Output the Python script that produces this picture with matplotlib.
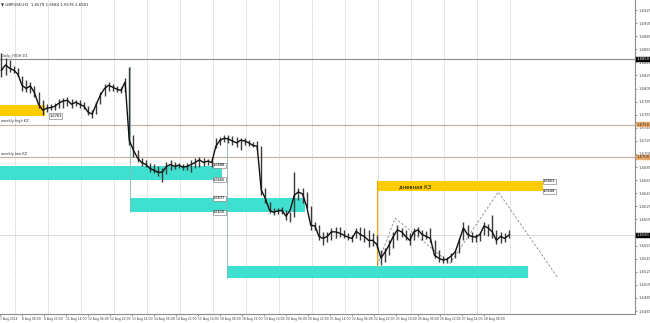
import numpy as np
import matplotlib
matplotlib.use("Agg")
import matplotlib.pyplot as plt
import matplotlib.transforms as mtransforms

high = [1.6859, 1.6851, 1.6848, 1.6839, 1.6836, 1.6824, 1.6818, 1.6815, 1.6809, 1.6799,
        1.6787, 1.6781, 1.6781, 1.6783, 1.6789, 1.6790, 1.6792, 1.6789, 1.6787, 1.6787,
        1.6784, 1.6778, 1.6772, 1.6784, 1.6799, 1.6812, 1.6815, 1.6812, 1.6809, 1.6807,
        1.6821, 1.6838, 1.6734, 1.6711, 1.6699, 1.6696, 1.6691, 1.6689, 1.6686, 1.6683,
        1.6692, 1.6696, 1.6692, 1.6691, 1.6689, 1.6691, 1.6696, 1.6699, 1.6700, 1.6699,
        1.6697, 1.6699, 1.6729, 1.6731, 1.6734, 1.6734, 1.6732, 1.6731, 1.6729, 1.6729,
        1.6726, 1.6723, 1.6725, 1.6717, 1.6653, 1.6631, 1.6622, 1.6622, 1.6624, 1.6619,
        1.6616, 1.6677, 1.6653, 1.6653, 1.6647, 1.6625, 1.6601, 1.6596, 1.6586, 1.6586,
        1.6592, 1.6593, 1.6593, 1.6589, 1.6584, 1.6581, 1.6592, 1.6593, 1.6592, 1.6589,
        1.6584, 1.6581, 1.6558, 1.6561, 1.6573, 1.6586, 1.6596, 1.6592, 1.6589, 1.6584,
        1.6592, 1.6593, 1.6589, 1.6587, 1.6592, 1.6573, 1.6558, 1.6549, 1.6547, 1.6553,
        1.6558, 1.6576, 1.6601, 1.6596, 1.6586, 1.6582, 1.6586, 1.6601, 1.6598, 1.6612,
        1.6589, 1.6586, 1.6584, 1.6589]
low = [1.6822, 1.6825, 1.6830, 1.6828, 1.6824, 1.6802, 1.6799, 1.6798, 1.6792, 1.6775,
       1.6764, 1.6769, 1.6772, 1.6772, 1.6775, 1.6776, 1.6778, 1.6776, 1.6778, 1.6776,
       1.6773, 1.6764, 1.6760, 1.6766, 1.6781, 1.6793, 1.6802, 1.6802, 1.6799, 1.6798,
       1.6799, 1.6718, 1.6700, 1.6692, 1.6686, 1.6685, 1.6677, 1.6676, 1.6671, 1.6662,
       1.6674, 1.6680, 1.6682, 1.6683, 1.6680, 1.6680, 1.6677, 1.6683, 1.6685, 1.6686,
       1.6688, 1.6685, 1.6714, 1.6718, 1.6723, 1.6722, 1.6718, 1.6715, 1.6711, 1.6718,
       1.6717, 1.6715, 1.6711, 1.6642, 1.6630, 1.6615, 1.6612, 1.6613, 1.6613, 1.6604,
       1.6601, 1.6608, 1.6634, 1.6630, 1.6622, 1.6589, 1.6589, 1.6573, 1.6566, 1.6570,
       1.6573, 1.6576, 1.6578, 1.6576, 1.6573, 1.6570, 1.6576, 1.6573, 1.6570, 1.6563,
       1.6564, 1.6561, 1.6535, 1.6540, 1.6550, 1.6561, 1.6573, 1.6578, 1.6573, 1.6566,
       1.6573, 1.6579, 1.6573, 1.6575, 1.6570, 1.6546, 1.6540, 1.6538, 1.6538, 1.6540,
       1.6546, 1.6553, 1.6573, 1.6576, 1.6570, 1.6570, 1.6572, 1.6581, 1.6579, 1.6576,
       1.6567, 1.6569, 1.6570, 1.6576]
close = [1.6833, 1.6841, 1.6836, 1.6833, 1.6827, 1.6810, 1.6805, 1.6809, 1.6799, 1.6781,
         1.6772, 1.6775, 1.6776, 1.6778, 1.6783, 1.6786, 1.6787, 1.6781, 1.6784, 1.6781,
         1.6778, 1.6769, 1.6766, 1.6781, 1.6795, 1.6805, 1.6810, 1.6807, 1.6804, 1.6802,
         1.6815, 1.6726, 1.6711, 1.6699, 1.6692, 1.6689, 1.6683, 1.6680, 1.6677, 1.6677,
         1.6686, 1.6689, 1.6686, 1.6688, 1.6685, 1.6686, 1.6689, 1.6692, 1.6696, 1.6692,
         1.6694, 1.6692, 1.6717, 1.6726, 1.6729, 1.6728, 1.6725, 1.6722, 1.6726, 1.6725,
         1.6722, 1.6718, 1.6717, 1.6650, 1.6637, 1.6619, 1.6616, 1.6618, 1.6619, 1.6610,
         1.6619, 1.6642, 1.6647, 1.6644, 1.6625, 1.6596, 1.6595, 1.6579, 1.6576, 1.6579,
         1.6586, 1.6586, 1.6584, 1.6581, 1.6578, 1.6576, 1.6587, 1.6582, 1.6579, 1.6573,
         1.6573, 1.6567, 1.6546, 1.6555, 1.6566, 1.6579, 1.6589, 1.6586, 1.6579, 1.6573,
         1.6586, 1.6589, 1.6582, 1.6579, 1.6576, 1.6550, 1.6546, 1.6543, 1.6544, 1.6549,
         1.6555, 1.6573, 1.6592, 1.6582, 1.6579, 1.6578, 1.6582, 1.6595, 1.6592, 1.6586,
         1.6573, 1.6579, 1.6576, 1.6581]

date_labels = ["7 Aug 2014", "8 Aug 06:00", "8 Aug 22:00", "11 Aug 14:00", "12 Aug 06:00",
               "12 Aug 22:00", "13 Aug 14:00", "14 Aug 06:00", "14 Aug 22:00", "15 Aug 14:00",
               "18 Aug 06:00", "18 Aug 22:00", "19 Aug 14:00", "20 Aug 06:00", "20 Aug 22:00",
               "21 Aug 14:00", "22 Aug 06:00", "22 Aug 22:00", "25 Aug 14:00", "26 Aug 06:00",
               "26 Aug 22:00", "27 Aug 14:00", "28 Aug 06:00"]

# horizontal levels
line_prices = [1.6850, 1.6750, 1.6700]
line_names = ["Daily_HIGH D1", "weekly-high KZ", "weekly-low KZ"]
line_colors = ["#8c8c8c", "#c4b09a", "#c4b09a"]
box_colors = ["black", "#e9a96b", "#e9a96b"]
last_price = 1.6581

# zones (bar index from / to, top, bottom)
zone_x0 = [0, 0, 94.5, 165, 274]
zone_x1 = [33, 161.5, 221.8, 384, 395]
zone_top = [1.6780, 1.6687, 1.6637, 1.6534, 1.6663]
zone_bot = [1.6763, 1.6665, 1.6616, 1.6515, 1.6648]
zone_col = ["#ffcc00", "#40e0d0", "#40e0d0", "#40e0d0", "#ffcc00"]

# forecast zigzag (bar index, price)
zz_x = [274.4, 287.3, 327.3, 362.4, 405.3]
zz_y = [1.6535, 1.6607, 1.6538, 1.6647, 1.6517]

small = ["Liberation Sans Narrow", "DejaVu Sans"]

fig = plt.figure(figsize=(6.5, 3.23), dpi=100)
ax = fig.add_axes([0, 9 / 323, 635 / 650, 314 / 323])
ax.set_xlim(0, 635 / 1.375)
ax.set_ylim(1.64605, 1.69403)

# vertical dotted grid, one line a day
for gx in range(11, 380, 24):
    ax.axvline(gx, color="#b4b4b4", lw=0.6, ls=(0, (1, 1.5)), zorder=0)

for p, c in zip(line_prices, line_colors):
    ax.axhline(p, color=c, lw=0.8, zorder=1)
ax.axhline(last_price, color="#dcdcdc", lw=0.7, zorder=1)

for x0, x1, t, b, c in zip(zone_x0, zone_x1, zone_top, zone_bot, zone_col):
    ax.fill_between([x0, x1], b, t, color=c, lw=0, zorder=2)

# thin connector lines
ax.plot([94.5, 94.5], [1.6838, 1.6616], color="#86b9b1", lw=0.6, zorder=2)
ax.plot([165, 165], [1.6731, 1.6515], color="#86b9b1", lw=0.6, zorder=2)
ax.plot([274, 274], [1.6663, 1.6534], color="#f2a900", lw=0.8, zorder=2)

ax.plot(zz_x, zz_y, color="#8a8a8a", lw=0.6, ls=(0, (3, 2)), zorder=3)

bars = np.arange(len(high)) * 3 + 1
ax.vlines(bars, low, high, color="#3a3a3a", lw=1.0, zorder=4)
ax.plot(bars, close, color="#111111", lw=1.0, zorder=5)

# zone price tags
tag = dict(boxstyle="square,pad=0.15", fc="white", ec="#707070", lw=0.4)
for x, p in [(36, 1.6763), (155, 1.6688), (155, 1.6666), (155, 1.6637),
             (155, 1.6616), (395, 1.6663), (395, 1.6648)]:
    ax.text(x, p, f"{p:.4f}", fontsize=2.6, family=small, ha="left", va="center",
            bbox=tag, zorder=6)

ax.text(290, 1.6655, "дневная КЗ", fontsize=3.8, ha="left", va="center", zorder=6)

for p, name in zip(line_prices, line_names):
    ax.text(1, p + 0.0002, name, fontsize=2.6, family=small, ha="left", va="bottom",
            color="#333333", zorder=6)

ax.text(1, 1.6934, "▼ GBPUSD,H1  1.6579 1.6584 1.6576 1.6581", fontsize=2.8,
        family=small, ha="left", va="center", color="#222222")

# axes styling
for s in ["top", "left"]:
    ax.spines[s].set_visible(False)
for s in ["right", "bottom"]:
    ax.spines[s].set_color("#8c8c8c")
    ax.spines[s].set_linewidth(0.8)

ax.yaxis.tick_right()
yt = np.round(np.arange(1.6465, 1.69251, 0.0020), 4)
yt = [t for t in yt if abs(t - last_price) > 0.0006]
ax.set_yticks(yt)
ax.set_yticklabels([f"{t:.4f}" for t in yt], family=small)
ax.tick_params(axis="y", labelsize=2.7, length=1.5, width=0.4, pad=0.8, colors="#444444")
ax.set_xticks(np.arange(len(date_labels)) * 16)
ax.set_xticklabels(date_labels, ha="left", family=small, fontstretch="condensed")
ax.tick_params(axis="x", labelsize=2.4, length=1.5, width=0.4, pad=1, colors="#444444")

# price boxes on the right scale
trans = mtransforms.blended_transform_factory(ax.transAxes, ax.transData)
for p, bc in zip(line_prices, box_colors):
    tc = "white" if bc == "black" else "#222222"
    ax.text(1.003, p, f"{p:.4f}", transform=trans, fontsize=2.7, family=small, ha="left",
            va="center", color=tc, clip_on=False, zorder=7,
            bbox=dict(boxstyle="square,pad=0.15", fc=bc, ec=bc, lw=0.3))
ax.text(1.003, last_price, f"{last_price:.4f}", transform=trans, fontsize=2.7, family=small,
        ha="left", va="center", color="white", clip_on=False, zorder=7,
        bbox=dict(boxstyle="square,pad=0.15", fc="black", ec="black", lw=0.3))

fig.savefig("out.png", dpi=100, facecolor="white")
